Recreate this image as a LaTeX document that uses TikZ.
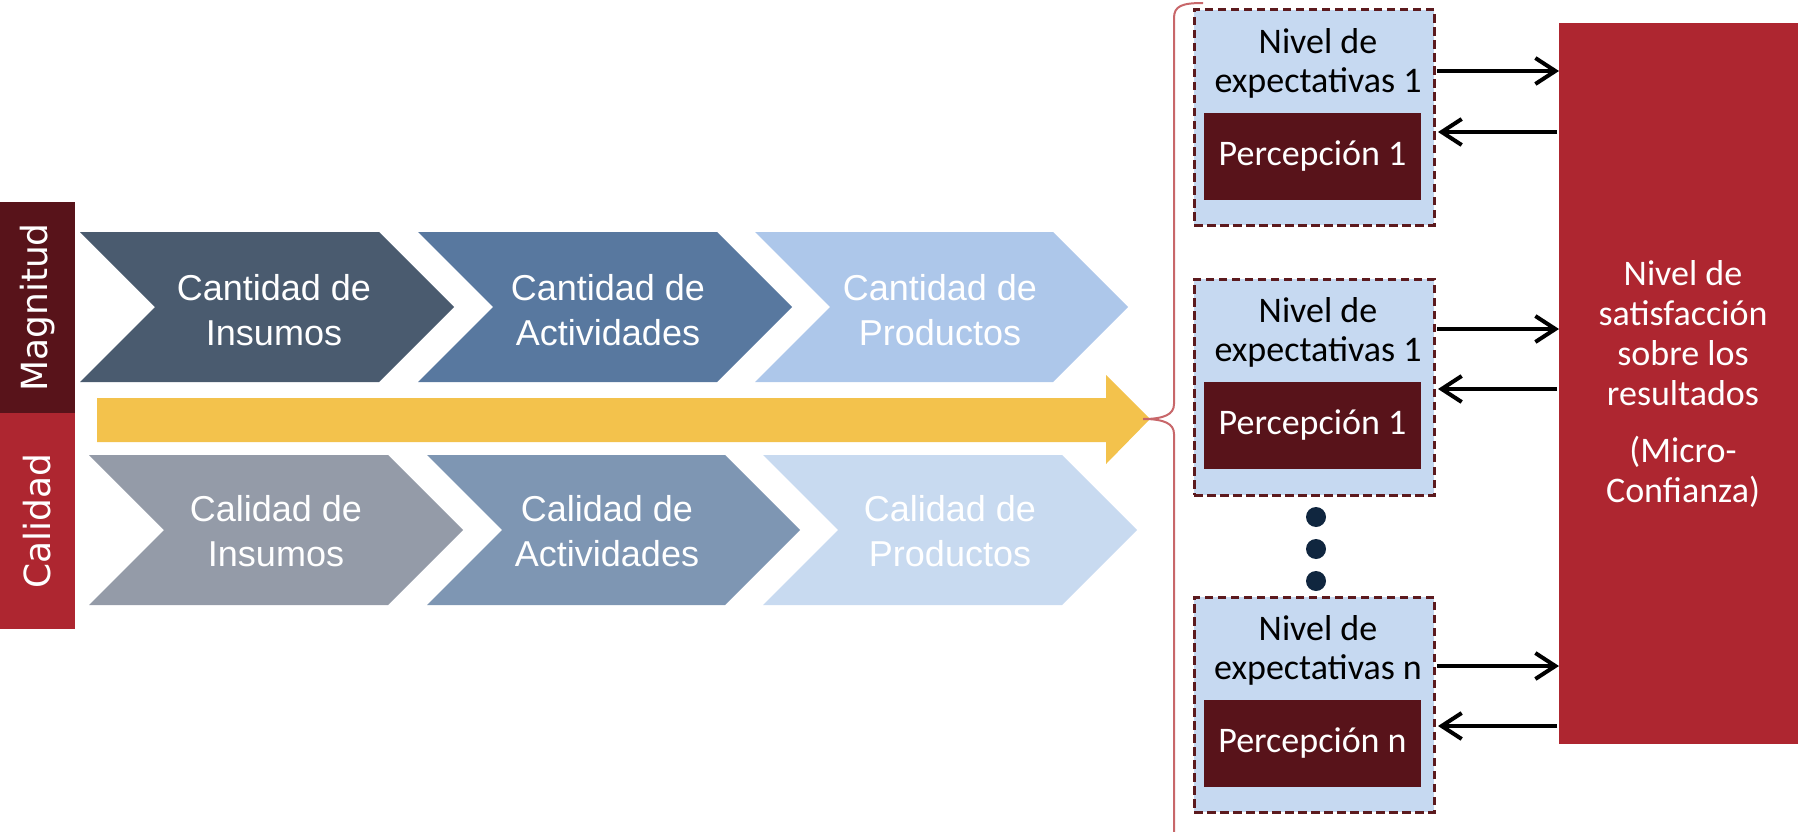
\documentclass[tikz,border=0pt]{standalone}
\usepackage{fontspec}
\setmainfont{Carlito}
\newfontfamily\arialf{Liberation Sans}
\newfontfamily\dejavuf{DejaVu Sans}
\usetikzlibrary{arrows.meta}
\definecolor{magc}{HTML}{58131A}
\definecolor{calc}{HTML}{AE2630}
\definecolor{c11}{HTML}{4A5B6F}
\definecolor{c12}{HTML}{58789F}
\definecolor{c13}{HTML}{ADC7EA}
\definecolor{c21}{HTML}{949BA8}
\definecolor{c22}{HTML}{7E96B3}
\definecolor{c23}{HTML}{C8DAF0}
\definecolor{yel}{HTML}{F3C24C}
\definecolor{boxc}{HTML}{C6D9F1}
\definecolor{dashc}{HTML}{5C1A1E}
\definecolor{bracec}{HTML}{C8676A}
\definecolor{dotc}{HTML}{10263F}
\newcommand{\chev}[5]{\fill[#5] (#1,#2) -- ++(#3,0) -- ++(#4,#4) -- ++(-#4,#4) -- ++(-#3,0) -- ++(#4,-#4) -- cycle;}
\begin{document}
\begin{tikzpicture}[x=1pt,y=-1pt,
  sidebox/.style={rotate=90,inner sep=0pt,outer sep=0pt,text=white,font=\dejavuf\fontsize{36}{42}\selectfont,minimum height=75pt},
  chevtext/.style={align=center,text=white,inner sep=0pt,font=\arialf\fontsize{36}{45}\selectfont},
  expbox/.style={fill=boxc,draw=dashc,line width=3pt,dash pattern=on 8.5pt off 4.5pt,minimum width=240pt,inner sep=0pt,outer sep=0pt},
  exptext/.style={align=center,inner sep=0pt,font=\fontsize{36}{39}\selectfont},
  percbox/.style={fill=magc,text=white,minimum width=217pt,minimum height=87pt,inner sep=0pt,outer sep=0pt,font=\fontsize{36}{39}\selectfont},
  conn/.style={line width=4pt,-{Straight Barb[length=20pt,width=26pt]}},
  dot/.style={circle,fill=dotc,minimum size=20pt,inner sep=0pt},
]
\useasboundingbox (0,0) rectangle (1798,832);
% side labels
\node[sidebox,fill=magc,minimum width=211pt] (mag) at (37.5,307.5) {Magnitud};
\node[sidebox,fill=calc,minimum width=216pt] (cal) at (37.5,521) {Calidad};
% chevrons
\chev{80}{232}{299}{75}{c11}
\chev{418}{232}{299}{75}{c12}
\chev{755}{232}{298}{75}{c13}
\chev{89}{455}{299}{75}{c21}
\chev{427}{455}{298}{75}{c22}
\chev{763}{455}{299}{75}{c23}
\node[chevtext] (t11) at (274,313.5) {Cantidad de\strut\\Insumos\strut};
\node[chevtext] (t12) at (608,313.5) {Cantidad de\strut\\Actividades\strut};
\node[chevtext] (t13) at (940,313.5) {Cantidad de\strut\\Productos\strut};
\node[chevtext] (t21) at (276,534.5) {Calidad de\strut\\Insumos\strut};
\node[chevtext] (t22) at (607,534.5) {Calidad de\strut\\Actividades\strut};
\node[chevtext] (t23) at (950,534.5) {Calidad de\strut\\Productos\strut};
% yellow arrow
\fill[yel] (97,398) -- (1106,398) -- (1106,375) -- (1150,419) -- (1106,464) -- (1106,442) -- (97,442) -- cycle;
% brace
\draw[bracec,line width=2pt] (1203,3) .. controls (1182,3) and (1174,6) .. (1174,18) -- (1174,404) .. controls (1174,414) and (1165,419) .. (1143,419) .. controls (1165,419) and (1174,424) .. (1174,434) -- (1174,845);
% expectation boxes
\node[expbox,minimum height=215pt] (e1) at (1314,117.5) {};
\node[expbox,minimum height=216pt] (e2) at (1314,387) {};
\node[expbox,minimum height=215pt] (e3) at (1314,704.5) {};
\node[exptext] (x1) at (1318,65) {Nivel de\strut\\expectativas 1\strut};
\node[exptext] (x2) at (1318,334) {Nivel de\strut\\expectativas 1\strut};
\node[exptext] (x3) at (1318,652) {Nivel de\strut\\expectativas n\strut};
\node[percbox] (p1) at (1312.5,156.5) {Percepción 1};
\node[percbox] (p2) at (1312.5,425.5) {Percepción 1};
\node[percbox] (p3) at (1312.5,743.5) {Percepción n};
% dots
\node[dot] (d1) at (1316,517) {};
\node[dot] (d2) at (1316,549) {};
\node[dot] (d3) at (1316,581) {};
% satisfaction box
\node[fill=calc,minimum width=239pt,minimum height=721pt,inner sep=0pt,outer sep=0pt] (sat) at (1678.5,383.5) {};
\node[align=center,text=white,inner sep=0pt,font=\fontsize{36}{40}\selectfont] (sattext) at (1683,385.5) {Nivel de\strut\\satisfacción\strut\\sobre los\strut\\resultados\strut\\[17pt](Micro-\strut\\Confianza)\strut};
% connectors
\coordinate (r1) at (0,71);
\coordinate (l1) at (0,132);
\coordinate (r2) at (0,329);
\coordinate (l2) at (0,389);
\coordinate (r3) at (0,666);
\coordinate (l3) at (0,726);
\draw[conn,shorten <=3pt] (e1.east |- r1) -- (sat.west |- r1);
\draw[conn,shorten <=3pt] (e2.east |- r2) -- (sat.west |- r2);
\draw[conn,shorten <=3pt] (e3.east |- r3) -- (sat.west |- r3);
\draw[conn,shorten <=2pt,shorten >=4pt] (sat.west |- l1) -- (e1.east |- l1);
\draw[conn,shorten <=2pt,shorten >=4pt] (sat.west |- l2) -- (e2.east |- l2);
\draw[conn,shorten <=2pt,shorten >=4pt] (sat.west |- l3) -- (e3.east |- l3);
\end{tikzpicture}
\end{document}
